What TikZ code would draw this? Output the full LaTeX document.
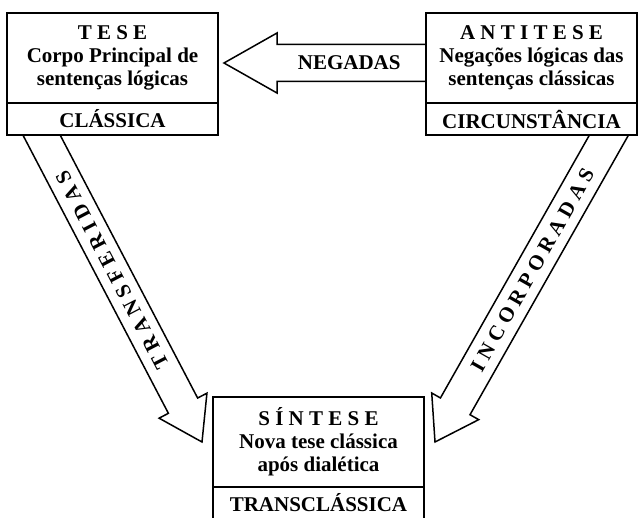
\documentclass[tikz,border=0pt]{standalone}
\usepackage{fontspec}
\setmainfont{Liberation Serif}
\usetikzlibrary{calc,positioning,backgrounds}

\tikzset{
  mainbox/.style={draw, line width=1.5pt, fill=white, outer sep=0pt,
    minimum width=211pt, minimum height=90pt, align=center,
    font=\fontsize{21}{23}\selectfont\bfseries},
  tagbox/.style={draw, line width=1.5pt, fill=white, outer sep=0pt,
    minimum width=211pt, minimum height=32pt,
    font=\fontsize{21}{23}\selectfont\bfseries},
  fatline/.style={draw, line width=1.5pt, fill=white, line join=miter},
  arrowtext/.style={font=\fontsize{21}{23}\selectfont\bfseries},
  spaced/.style={font=\fontsize{21}{23}\selectfont\bfseries\addfontfeature{LetterSpace=25}}
}

% fat arrow: tail, tip, shaft half width, head half width, head length
\newcommand{\fatarrow}[5]{%
  \coordinate (fab) at ($(#2)!#5!(#1)$);
  \coordinate (fat) at ($(#1)!-12pt!(#2)$);
  \draw[fatline] ($(fat)!#3!90:(#2)$) -- ($(fab)!#3!90:(#2)$)
    -- ($(fab)!#4!90:(#2)$) -- (#2) -- ($(fab)!#4!-90:(#2)$)
    -- ($(fab)!#3!-90:(#2)$) -- ($(fat)!#3!-90:(#2)$) -- cycle;
}

\begin{document}
\begin{tikzpicture}[x=1pt, y=1pt]

	\useasboundingbox (0,0) rectangle (639,-518);

	% Boxes
	\node[mainbox] (tese) at (112.5,-58) {T E S E\\ Corpo Principal de\\ sentenças lógicas};
	\node[tagbox, below=0pt of tese] (teseTag) {CLÁSSICA};

	\node[mainbox] (antitese) at (531.5,-58) {A N T I T E S E\\ Negações lógicas das\\ sentenças clássicas};
	\node[tagbox, below=0pt of antitese] (antiteseTag) {CIRCUNSTÂNCIA};

	\node[mainbox] (sintese) at (318.5,-442) {S Í N T E S E\\ Nova tese clássica\\ após dialética};
	\node[tagbox, below=0pt of sintese] (sinteseTag) {TRANSCLÁSSICA};

	% Arrow ends
	\coordinate (negTail) at ($(antitese.west)+(0,-5)$);
	\coordinate (negTip)  at ($(tese.east)+(6,-5)$);
	\coordinate (trfTail) at ($(teseTag.south west)+(34.5,0)$);
	\coordinate (trfTip)  at ($(sintese.west)+(-11,0)$);
	\coordinate (incTail) at ($(antiteseTag.south east)+(-28,0)$);
	\coordinate (incTip)  at ($(sintese.east)+(11,0)$);

	% Fat arrows
	\begin{pgfonlayer}{background}
		\fatarrow{negTail}{negTip}{18.5pt}{30pt}{53pt}
		\fatarrow{trfTail}{trfTip}{16.5pt}{27pt}{41pt}
		\fatarrow{incTail}{incTip}{17pt}{27pt}{41pt}
	\end{pgfonlayer}

	% Arrow labels
	\path (negTip) -- (negTail) node[arrowtext, pos=0.62] (negText) {NEGADAS};
	\path (trfTip) -- (trfTail) node[spaced, pos=0.56, sloped, allow upside down] (trfText) {TRANSFERIDAS};
	\path (incTip) -- (incTail) node[spaced, pos=0.56, sloped, allow upside down] (incText) {INCORPORADAS};
\end{tikzpicture}
\end{document}
